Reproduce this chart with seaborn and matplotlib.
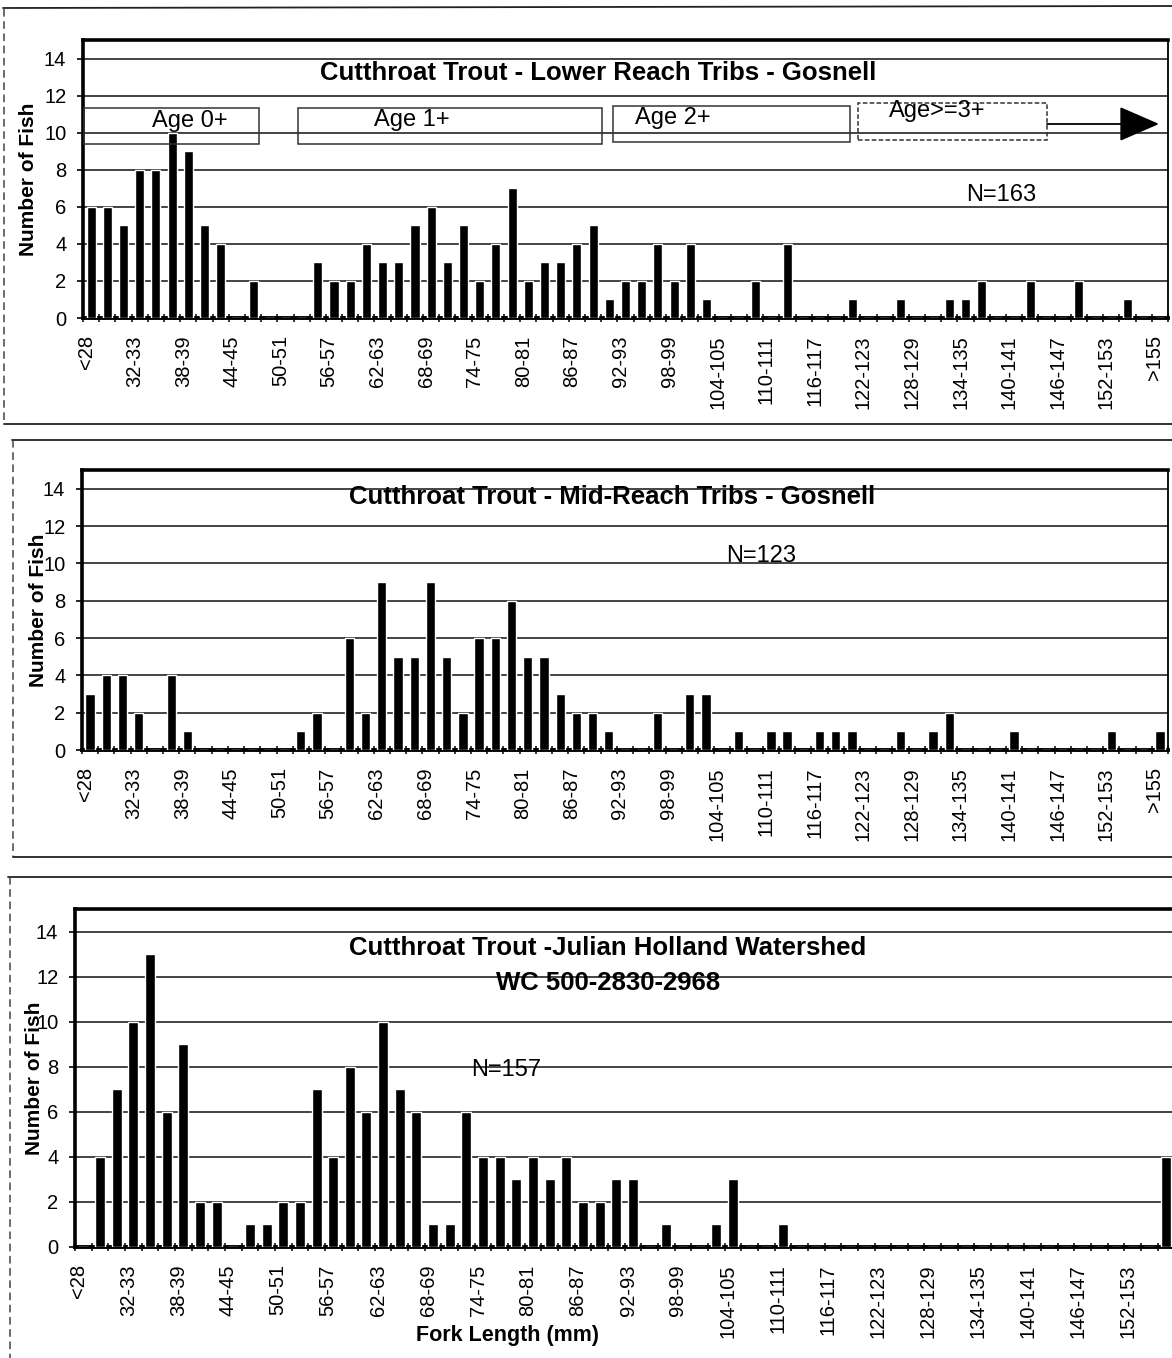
import numpy as np
import pandas as pd
import seaborn as sns
import matplotlib
matplotlib.use("Agg")
import matplotlib.pyplot as plt
import matplotlib.transforms as mtransforms
from matplotlib.patches import Rectangle, Polygon
from matplotlib.lines import Line2D

sns.set_theme(style="white")
plt.rcParams["font.family"] = ["Liberation Sans", "DejaVu Sans"]
plt.rcParams["text.color"] = "black"
plt.rcParams["axes.labelcolor"] = "black"
plt.rcParams["xtick.color"] = "black"
plt.rcParams["ytick.color"] = "black"

# Fork-length classes (2 mm bins)
length_bins = (["<28"] + [f"{lo}-{lo + 1}" for lo in range(28, 156, 2)]
               + ["156-157", ">155"])

# Number of cutthroat trout per fork-length class
lower_reach = [6, 6, 5, 8, 8, 10, 9, 5, 4, 0,
               2, 0, 0, 0, 3, 2, 2, 4, 3, 3,
               5, 6, 3, 5, 2, 4, 7, 2, 3, 3,
               4, 5, 1, 2, 2, 4, 2, 4, 1, 0,
               0, 2, 0, 4, 0, 0, 0, 1, 0, 0,
               1, 0, 0, 1, 1, 2, 0, 0, 2, 0,
               0, 2, 0, 0, 1, 0, 0]

mid_reach = [3, 4, 4, 2, 0, 4, 1, 0, 0, 0,
             0, 0, 0, 1, 2, 0, 6, 2, 9, 5,
             5, 9, 5, 2, 6, 6, 8, 5, 5, 3,
             2, 2, 1, 0, 0, 2, 0, 3, 3, 0,
             1, 0, 1, 1, 0, 1, 1, 1, 0, 0,
             1, 0, 1, 2, 0, 0, 0, 1, 0, 0,
             0, 0, 0, 1, 0, 0, 1]

julian_holland = [0, 4, 7, 10, 13, 6, 9, 2, 2, 0,
                  1, 1, 2, 2, 7, 4, 8, 6, 10, 7,
                  6, 1, 1, 6, 4, 4, 3, 4, 3, 4,
                  2, 2, 3, 3, 0, 1, 0, 0, 1, 3,
                  0, 0, 1, 0, 0, 0, 0, 0, 0, 0,
                  0, 0, 0, 0, 0, 0, 0, 0, 0, 0,
                  0, 0, 0, 0, 0, 4, 0]

# Age-class bands shown over the lower-reach histogram
age_labels = ["Age 0+", "Age 1+", "Age 2+", "Age>=3+"]

W, H, DPI = 1172, 1358, 100
fig = plt.figure(figsize=(W / DPI, H / DPI), dpi=DPI)
fig.patch.set_facecolor("white")


def axes_px(left, top, right, bottom):
    return fig.add_axes([left / W, 1 - bottom / H,
                         (right - left) / W, (bottom - top) / H])


def fig_line(xs, ys, **kw):
    fig.add_artist(Line2D([x / W for x in xs], [1 - y / H for y in ys],
                          transform=fig.transFigure, **kw))


label_shift = mtransforms.ScaledTranslation(-5 / DPI, 0, fig.dpi_scale_trans)


def histogram(ax, counts, bar_width, last_label):
    df = pd.DataFrame({"fork_length": length_bins, "fish": counts})
    sns.barplot(data=df, x="fork_length", y="fish", order=length_bins,
                color="black", saturation=1, width=bar_width,
                errorbar=None, ax=ax, zorder=3)
    n = len(length_bins)
    ax.set_xlim(-0.5, n - 0.5)
    ax.set_ylim(0, 15)
    ax.set_yticks(np.arange(0, 15, 2))
    shown = np.arange(0, last_label + 1, 3)
    ax.set_xticks(shown, [length_bins[i] for i in shown], rotation=90)
    ax.set_xticks(np.arange(-0.5, n, 1), minor=True)
    ax.set_xlabel("")
    ax.set_ylabel("")
    ax.yaxis.grid(True, color="#111111", linewidth=1.1)
    ax.xaxis.grid(False)
    ax.set_axisbelow(True)
    ax.tick_params(axis="x", which="major", length=0, pad=12.5,
                   labelsize=14.5, labelcolor="black")
    ax.tick_params(axis="x", which="minor", direction="inout", length=6,
                   width=1.1, color="black", bottom=True)
    ax.tick_params(axis="y", direction="out", length=4, width=1.2,
                   color="black", pad=8, labelsize=14.5, labelcolor="black",
                   left=True)
    for side, lw in [("top", 2.6), ("left", 2.6), ("bottom", 2.8), ("right", 1.3)]:
        ax.spines[side].set_visible(True)
        ax.spines[side].set_color("black")
        ax.spines[side].set_linewidth(lw)
    for lab in ax.get_xticklabels():
        lab.set_transform(lab.get_transform() + label_shift)


frame_kw = dict(color="#222222", linewidth=1.3)
side_kw = dict(color="#444444", linewidth=1.1, linestyle=(0, (5, 3)))

# ---- Lower reach tributaries ----
fig_line([3, W], [8, 6], **frame_kw)
fig_line([4, 4], [9, 424], **side_kw)
fig_line([4, W], [424, 424], **frame_kw)

ax1 = axes_px(83, 40, 1168, 318)
histogram(ax1, lower_reach, 0.56, 66)
ax1.text(31.3, 13.2, "Cutthroat Trout - Lower Reach Tribs - Gosnell",
         ha="center", va="center", fontsize=18.5, fontweight="bold")
ax1.text(56.2, 6.62, "N=163", ha="center", va="center", fontsize=17)

age_boxes = [(-0.45, 9.37, 10.82, 1.94),
             (12.78, 9.37, 18.78, 1.94),
             (32.24, 9.48, 14.63, 1.94),
             (47.37, 9.59, 11.67, 1.99)]
age_styles = ["-", "-", "-", (0, (3, 1.5))]
age_text_pos = [(6.1, 10.62), (19.8, 10.66), (35.9, 10.77), (52.25, 11.15)]
for (x0, y0, w, h), ls, (tx, ty), lab in zip(age_boxes, age_styles,
                                             age_text_pos, age_labels):
    ax1.add_patch(Rectangle((x0, y0), w, h, fill=False, edgecolor="#333333",
                            linewidth=1.1, linestyle=ls, zorder=4))
    ax1.text(tx, ty, lab, ha="center", va="center", fontsize=17, zorder=5)
ax1.plot([59.04, 63.7], [10.45, 10.45], color="black", linewidth=1.3, zorder=4)
ax1.add_patch(Polygon([(63.6, 11.32), (63.6, 9.62), (65.84, 10.47)],
                      closed=True, facecolor="black", edgecolor="black", zorder=4))

# ---- Mid-reach tributaries ----
fig_line([12, W], [440, 440], **frame_kw)
fig_line([13, 13], [440, 857], **side_kw)
fig_line([13, W], [857, 857], **frame_kw)

ax2 = axes_px(82, 470, 1168, 750)
histogram(ax2, mid_reach, 0.57, 66)
ax2.text(32.2, 13.57, "Cutthroat Trout - Mid-Reach Tribs - Gosnell",
         ha="center", va="center", fontsize=18.5, fontweight="bold")
ax2.text(41.4, 10.4, "N=123", ha="center", va="center", fontsize=17)

# ---- Julian Holland watershed ----
fig_line([8, W], [877, 877], **frame_kw)
fig_line([10, 10], [877, H], **side_kw)

ax3 = axes_px(75, 909, 1191, 1247)
histogram(ax3, julian_holland, 0.6, 63)
ax3.text(31.5, 13.28, "Cutthroat Trout -Julian Holland Watershed",
         ha="center", va="center", fontsize=18.5, fontweight="bold")
ax3.text(31.5, 11.72, "WC 500-2830-2968",
         ha="center", va="center", fontsize=18.5, fontweight="bold")
ax3.text(25.4, 7.85, "N=157", ha="center", va="center", fontsize=17)

# Axis titles
for x, y in [(29, 179), (39, 610), (35, 1078)]:
    fig.text(x / W, 1 - y / H, "Number of Fish", rotation=90, ha="center",
             va="center", fontsize=15, fontweight="bold")
fig.text(507 / W, 1 - 1336 / H, "Fork Length (mm)", ha="center", va="center",
         fontsize=15.5, fontweight="bold")

fig.savefig("out.png", dpi=DPI, facecolor="white")
